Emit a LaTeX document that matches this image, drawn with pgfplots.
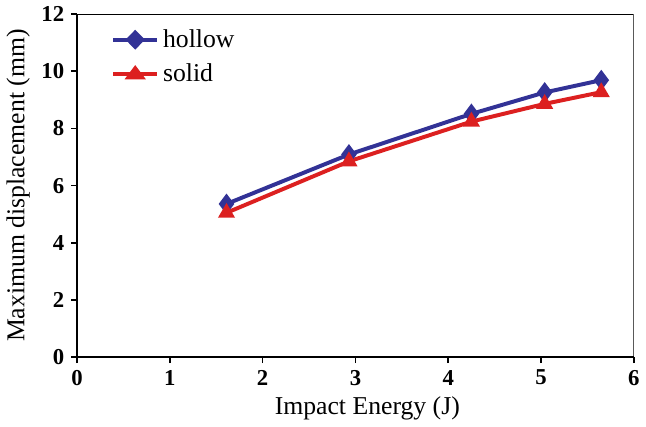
\documentclass[border=0pt]{standalone}
\usepackage{pgfplots}
\pgfplotsset{compat=1.18}
\usepackage{fontspec}
\setmainfont{Liberation Serif}
\definecolor{hblue}{HTML}{323296}
\definecolor{sred}{HTML}{DC2020}

\begin{document}
\begin{tikzpicture}
\begin{axis}[
  scale only axis, width=281.5pt, height=173.5pt,
  xmin=0, xmax=6, ymin=0, ymax=12,
  xtick={0,1,...,6}, ytick={0,2,...,12},
  axis x line*=bottom, axis y line*=left,
  tick align=outside, tick style={black, thick}, major tick length=3pt,
  axis line style={black, thick},
  every tick label/.style={font=\fontsize{11.5}{13}\selectfont\bfseries},
  /pgf/number format/assume math mode=true,
  xlabel={Impact Energy (J)}, ylabel={Maximum displacement (mm)},
  label style={font=\fontsize{13}{15}\selectfont},
  xlabel style={yshift=1pt, xshift=6pt}, ylabel style={yshift=-1pt},
  legend style={draw=none, fill=none, at={(0.05,0.98)}, anchor=north west,
    font=\fontsize{13}{15}\selectfont, row sep=3pt},
  legend cell align=left,
  legend image post style={xscale=1.3},
]
\draw[black, thick] (rel axis cs:1,0) -- (rel axis cs:1,1) -- (rel axis cs:0,1);
\addplot[hblue, line width=2pt, mark=diamond*, mark size=3.6pt] coordinates {
  (1.61,5.36) (2.93,7.09) (4.25,8.51) (5.04,9.26) (5.65,9.69)};
\addlegendentry{hollow}
\addplot[sred, line width=2pt, mark=triangle*, mark size=3pt] coordinates {
  (1.61,5.05) (2.93,6.85) (4.25,8.24) (5.04,8.86) (5.65,9.27)};
\addlegendentry{solid}
\end{axis}
\end{tikzpicture}
\end{document}
